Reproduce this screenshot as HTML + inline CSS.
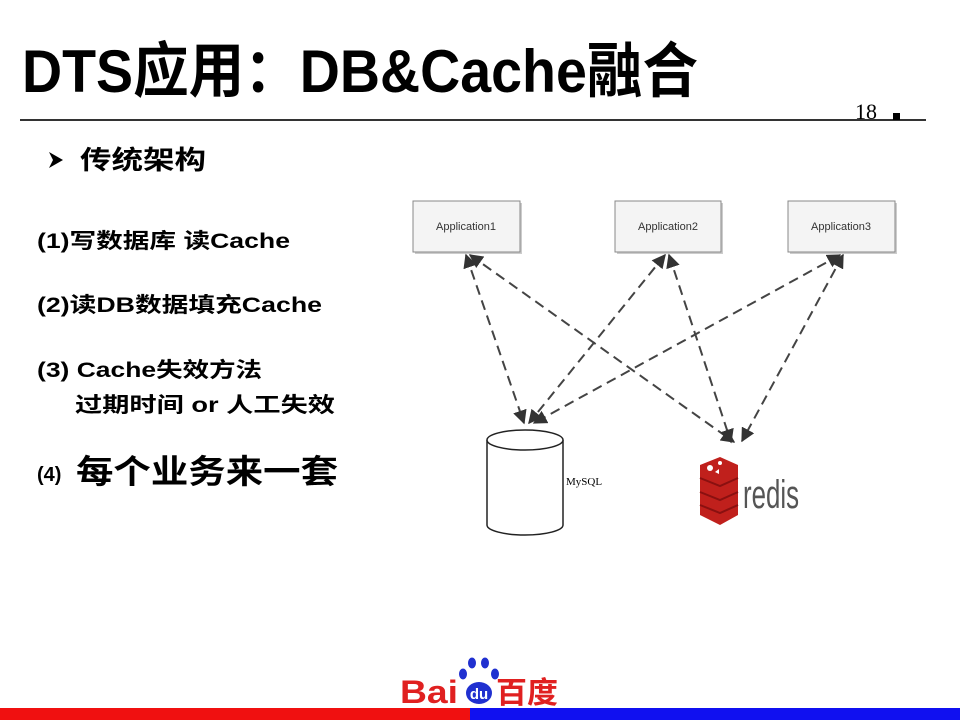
<!DOCTYPE html>
<html><head><meta charset="utf-8"><style>
html,body{margin:0;padding:0;background:#fff;}
svg{display:block;}
text{font-family:"Liberation Sans","Noto Sans CJK SC",sans-serif;}
</style></head><body>
<svg width="960" height="720" viewBox="0 0 960 720" xmlns="http://www.w3.org/2000/svg">
<defs>
<marker id="ah" viewBox="0 0 10 10" refX="9" refY="5" markerWidth="7" markerHeight="7" orient="auto-start-reverse"><path d="M0,0 L10,5 L0,10 z" fill="#333"/></marker>
</defs>
<text x="22" y="92" font-size="60" font-weight="bold" textLength="676" lengthAdjust="spacingAndGlyphs">DTS应用：DB&amp;Cache融合</text>
<line x1="20" y1="120" x2="926" y2="120" stroke="#333" stroke-width="2"/>
<text x="855" y="119" font-size="22" style="font-family:'Liberation Serif',serif">18</text>
<rect x="893" y="113" width="7" height="7" fill="#000"/>
<path d="M49,152 L63,160 L49,168 L53,160 z" fill="#000"/>
<text x="80" y="169" font-size="26" font-weight="bold" textLength="126" lengthAdjust="spacingAndGlyphs">传统架构</text>
<g font-weight="bold">
<text x="37" y="248" font-size="21" textLength="253" lengthAdjust="spacingAndGlyphs">(1)写数据库 读Cache</text>
<text x="37" y="312" font-size="21" textLength="285" lengthAdjust="spacingAndGlyphs">(2)读DB数据填充Cache</text>
<text x="37" y="377" font-size="21" textLength="225" lengthAdjust="spacingAndGlyphs">(3) Cache失效方法</text>
<text x="75" y="412" font-size="21" textLength="260" lengthAdjust="spacingAndGlyphs">过期时间  or 人工失效</text>
<text x="37" y="481" font-size="20">(4)</text>
<text x="76" y="483" font-size="33" textLength="262" lengthAdjust="spacingAndGlyphs">每个业务来一套</text>
</g>
<g fill="#f4f4f4" stroke="#888">
<rect x="415" y="203" width="107" height="51" fill="#ccc" stroke="none"/>
<rect x="617" y="203" width="106" height="51" fill="#ccc" stroke="none"/>
<rect x="790" y="203" width="107" height="51" fill="#ccc" stroke="none"/>
<rect x="413" y="201" width="107" height="51"/>
<rect x="615" y="201" width="106" height="51"/>
<rect x="788" y="201" width="107" height="51"/>
</g>
<g font-size="11" fill="#333" text-anchor="middle">
<text x="466" y="230">Application1</text>
<text x="668" y="230">Application2</text>
<text x="841" y="230">Application3</text>
</g>
<g stroke="#444" stroke-width="2" stroke-dasharray="10,6" fill="none" marker-start="url(#ah)" marker-end="url(#ah)">
<line x1="466" y1="255" x2="524" y2="423"/>
<line x1="470" y1="255" x2="734" y2="442"/>
<line x1="665" y1="255" x2="529" y2="423"/>
<line x1="669" y1="255" x2="731" y2="442"/>
<line x1="840" y1="255" x2="534" y2="423"/>
<line x1="843" y1="255" x2="742" y2="441"/>
</g>
<path d="M487,440 V525 A38,10 0 0 0 563,525 V440" fill="#fff" stroke="#222" stroke-width="1.5"/>
<ellipse cx="525" cy="440" rx="38" ry="10" fill="#fff" stroke="#222" stroke-width="1.5"/>
<text x="566" y="485" font-size="11" style="font-family:'Liberation Serif',serif">MySQL</text>
<g>
<path d="M700,465 L720,457 L738,465 L738,515 L720,525 L700,515 z" fill="#c0201c"/>
<path d="M700,478 L720,486 L738,478 M700,492 L720,500 L738,492 M700,505 L720,513 L738,505" stroke="#8a1010" stroke-width="2" fill="none"/>
<circle cx="710" cy="468" r="3" fill="#fff"/><circle cx="720" cy="463" r="2" fill="#fff"/><path d="M715,472 l4,-3 v5z" fill="#fff"/>
</g>
<text x="743" y="508" font-size="40" fill="#555" textLength="56" lengthAdjust="spacingAndGlyphs">redis</text>
<text x="400" y="703" font-size="32" font-weight="bold" fill="#e02020" textLength="58" lengthAdjust="spacingAndGlyphs">Bai</text>
<g fill="#2030d0">
<ellipse cx="463" cy="674" rx="4" ry="5.5"/><ellipse cx="472" cy="663" rx="4" ry="5.5"/><ellipse cx="485" cy="663" rx="4" ry="5.5"/><ellipse cx="495" cy="674" rx="4" ry="5.5"/>
<ellipse cx="479" cy="693" rx="13" ry="11"/>
</g>
<text x="479" y="699" font-size="15" font-weight="bold" fill="#fff" text-anchor="middle">du</text>
<text x="496" y="703" font-size="30" font-weight="bold" fill="#e02020" textLength="62" lengthAdjust="spacingAndGlyphs">百度</text>
<rect x="0" y="708" width="470" height="12" fill="#f01010"/>
<rect x="470" y="708" width="490" height="12" fill="#1010f0"/>
</svg>
</body></html>
